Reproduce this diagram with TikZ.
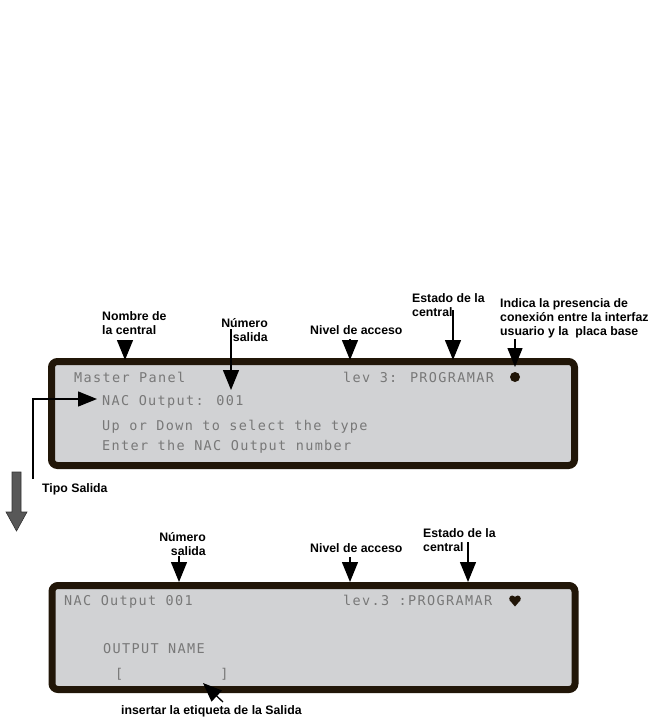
\documentclass[tikz,border=0pt]{standalone}
\usepackage{fontspec}
\setmainfont{Liberation Sans}
\newfontfamily\lcdfont[LetterSpace=10]{DejaVu Sans Mono}
\usetikzlibrary{arrows.meta}
\definecolor{panelfill}{RGB}{209,210,212}
\definecolor{panelborder}{RGB}{33,22,8}
\definecolor{lcdtext}{RGB}{120,120,120}
\definecolor{grayarrow}{RGB}{88,88,88}
\definecolor{grayedge}{RGB}{50,50,50}
\tikzset{
  panel/.style={draw=panelborder, fill=panelfill, line width=7pt, rounded corners=6pt,
    minimum width=523pt, minimum height=104pt, inner sep=0pt},
  lcd/.style={font=\lcdfont\fontsize{13.5}{16}\selectfont, text=lcdtext, anchor=base west, inner sep=0pt},
  lbl/.style={font=\bfseries\fontsize{12.3}{14}\selectfont, inner sep=0pt, align=left},
  ptr/.style={line width=1.3pt, -{Triangle[width=16pt,length=20pt]}},
  ptrsmall/.style={line width=1.3pt, -{Triangle[width=15pt,length=19pt]}},
}
\begin{document}
\begin{tikzpicture}[x=1pt,y=-1pt]
\useasboundingbox (0,0) rectangle (652,718);
% panels
\node[panel] (p1) at (313,413.5) {};
\node[panel] (p2) at (313.5,637.5) {};
% LCD texts top
\node[lcd] (t1) at (74,382) {Master Panel};
\node[lcd] (t2) at (102,405) {NAC Output: 001};
\node[lcd] (t3) at (102,430) {Up or Down to select the type};
\node[lcd] (t4) at (102,450) {Enter the NAC Output number};
\node[lcd] (t5) at (343,382) {lev 3: PROGRAMAR};
\fill[panelborder] (515,377) circle[radius=5pt];
% LCD texts bottom
\node[lcd] (b1) at (64,605) {NAC Output 001};
\node[lcd] (b2) at (343,605) {lev.3 :PROGRAMAR};
\node[lcd] (b3) at (103,653) {OUTPUT NAME};
\node[lcd] (b4) at (115,678) {[\hspace*{97pt}]};
\fill[panelborder] (512.3,598.6) circle[radius=3.1pt] (517.7,598.6) circle[radius=3.1pt];
\fill[panelborder] (509.4,600) -- (520.6,600) -- (515,606.5) -- cycle;
% labels top (base = baseline of last line)
\node[lbl, anchor=base west] (l1) at (102,334) {Nombre de\\la central};
\node[lbl, anchor=base east, align=right] (l2) at (268,341) {Número\\salida};
\node[lbl, anchor=base west] (l3) at (310,334.5) {Nivel de acceso};
\node[lbl, anchor=base west] (l4) at (412,316.5) {Estado de la\\central};
\node[lbl, anchor=base west] (l5) at (500,335) {Indica la presencia de\\conexión entre la interfaz\\usuario y la\ \ placa base};
\node[lbl, anchor=base west] (l6) at (42,492.5) {Tipo Salida};
% labels bottom
\node[lbl, anchor=base east, align=right] (m1) at (206,555) {Número\\salida};
\node[lbl, anchor=base west] (m2) at (310,552.5) {Nivel de acceso};
\node[lbl, anchor=base west] (m3) at (423,551.5) {Estado de la\\central};
\node[lbl, anchor=base west] (m4) at (121,714) {insertar la etiqueta de la Salida};
% connectors top
\coordinate (a1s) at (125,340); \coordinate (a1e) at (125,360);
\coordinate (a2s) at (231,329); \coordinate (a2e) at (231,390);
\coordinate (a3s) at (350,339); \coordinate (a3e) at (350,360);
\coordinate (a4s) at (453,310); \coordinate (a4e) at (453,360);
\coordinate (a5s) at (515,339); \coordinate (a5e) at (515,367);
\coordinate (a6s) at (33,479); \coordinate (a6e) at (97,399);
\draw[ptr] (a1s) -- (a1e);
\draw[ptr] (a2s) -- (a2e);
\draw[ptr] (a3s) -- (a3e);
\draw[ptr] (a4s) -- (a4e);
\draw[ptrsmall] (a5s) -- (a5e);
\draw[ptrsmall] (a6s) |- (a6e);
% connectors bottom
\coordinate (c1s) at (179,556); \coordinate (c1e) at (179,582);
\coordinate (c2s) at (350,557); \coordinate (c2e) at (350,582);
\coordinate (c3s) at (468,542); \coordinate (c3e) at (468,582);
\coordinate (c4s) at (223,702); \coordinate (c4e) at (203,683);
\draw[ptr] (c1s) -- (c1e);
\draw[ptr] (c2s) -- (c2e);
\draw[ptr] (c3s) -- (c3e);
\draw[ptrsmall] (c4s) -- (c4e);
% big gray step arrow
\filldraw[fill=grayarrow, draw=grayedge, line width=0.6pt]
  (12,472) -- (21,472) -- (21,512) -- (27,512) -- (16.5,531) -- (6,512) -- (12,512) -- cycle;
\end{tikzpicture}
\end{document}
